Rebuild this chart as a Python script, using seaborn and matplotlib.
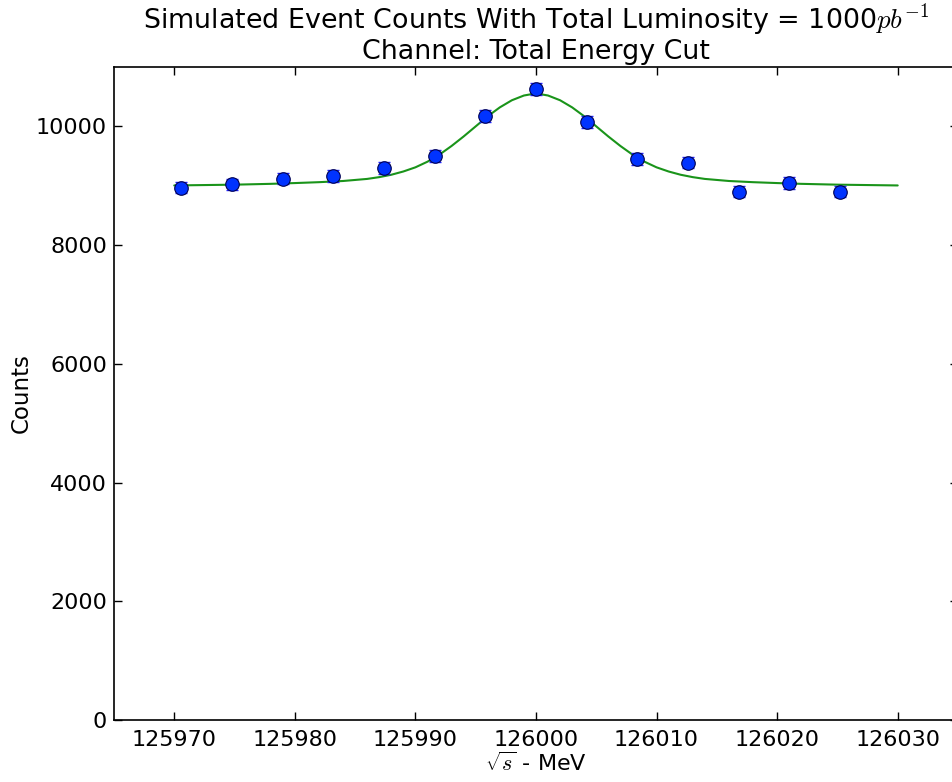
import numpy as np
import pandas as pd
import matplotlib
matplotlib.use('Agg')
import matplotlib.pyplot as plt
import seaborn as sns

# measured points (sqrt(s) in MeV, counts, poisson error)
energy = [125970.6, 125974.8, 125979.0, 125983.2, 125987.4, 125991.6, 125995.8,
          126000.0, 126004.2, 126008.4, 126012.6, 126016.8, 126021.0, 126025.2]
counts = [8966, 9022, 9118, 9162, 9297, 9499, 10174,
          10629, 10073, 9449, 9388, 8899, 9044, 8899]
count_err = [95, 95, 95, 96, 96, 97, 101,
             103, 100, 97, 97, 94, 95, 94]

# fitted curve
fit_x = [125970, 125975, 125978, 125980, 125982, 125984, 125986, 125987, 125988,
         125989, 125990, 125991, 125992, 125993, 125994, 125995, 125996, 125997,
         125998, 125999, 126000, 126001, 126002, 126003, 126004, 126005, 126006,
         126007, 126008, 126009, 126010, 126011, 126012, 126013, 126014, 126016,
         126018, 126020, 126022, 126025, 126030]
fit_counts = [9005, 9018, 9032, 9045, 9060, 9080, 9115, 9145, 9185,
              9240, 9310, 9405, 9525, 9670, 9830, 10000, 10170, 10320,
              10440, 10520, 10556, 10520, 10440, 10320, 10170, 10000, 9830,
              9670, 9525, 9405, 9310, 9240, 9185, 9145, 9115, 9080,
              9060, 9045, 9032, 9018, 9005]

sns.set_style('ticks')
plt.rcParams['font.family'] = ['DejaVu Sans']
plt.rcParams['mathtext.fontset'] = 'cm'
plt.rcParams['xtick.direction'] = 'in'
plt.rcParams['ytick.direction'] = 'in'
plt.rcParams['xtick.top'] = True
plt.rcParams['ytick.right'] = True
plt.rcParams['text.color'] = 'black'
plt.rcParams['axes.labelcolor'] = 'black'

fig = plt.figure(figsize=(9.52, 7.82), dpi=100)
ax = fig.add_axes([0.1197, 0.0793, 0.8866, 0.835])

fit = pd.DataFrame({'x': fit_x, 'y': fit_counts})
sns.lineplot(data=fit, x='x', y='y', ax=ax, color='#1a941a', lw=1.5, zorder=2)

ax.errorbar(energy, counts, yerr=count_err, fmt='none', ecolor='#2020ff',
            elinewidth=1, capsize=4, zorder=3)
pts = pd.DataFrame({'x': energy, 'y': counts})
sns.scatterplot(data=pts, x='x', y='y', ax=ax, color='#0033ff', s=95,
                edgecolor='#000050', linewidth=0.8, zorder=4)

ax.set_xlim(125965, 126035)
ax.set_ylim(0, 11000)
ax.set_xticks([125970, 125980, 125990, 126000, 126010, 126020, 126030])
ax.set_yticks([0, 2000, 4000, 6000, 8000, 10000])
ax.ticklabel_format(useOffset=False, style='plain')
ax.tick_params(labelsize=16, length=6, width=1, colors='black')
ax.tick_params(axis='x', pad=7)
ax.tick_params(axis='y', pad=5)
for sp in ax.spines.values():
    sp.set_linewidth(1.2)
    sp.set_color('black')

ax.set_xlabel(r'$\sqrt{s}$ - MeV', fontsize=16, labelpad=1)
ax.set_ylabel('Counts', fontsize=16.5, labelpad=2)
ax.set_title('Simulated Event Counts With Total Luminosity = 1000$pb^{-1}$\n'
             'Channel: Total Energy Cut', fontsize=19.4, pad=6, linespacing=1.05,
             color='black')

fig.savefig('out.png', dpi=100)
